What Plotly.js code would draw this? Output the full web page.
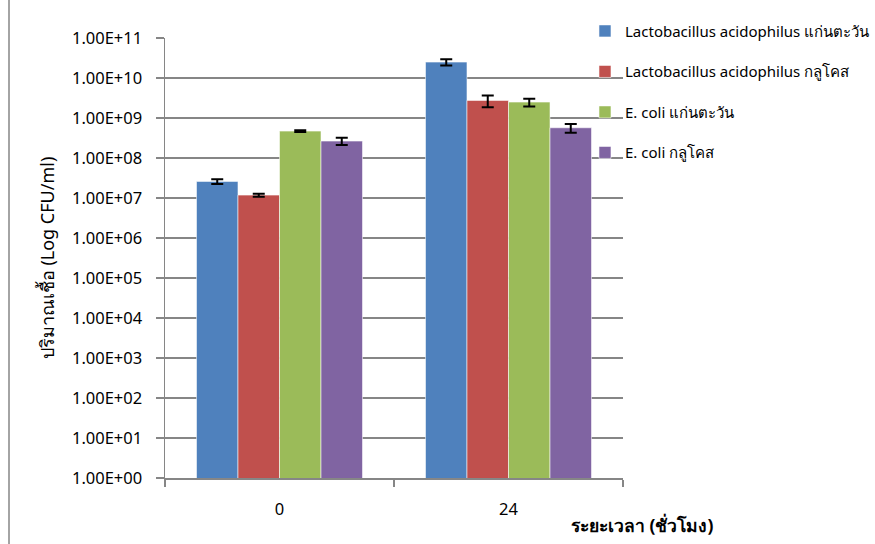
<!DOCTYPE html>
<html>
<head>
<meta charset="utf-8">
<script src="https://cdn.plot.ly/plotly-3.0.1.min.js"></script>
<style>html,body{margin:0;padding:0;background:#fff;}#chart{width:875px;height:544px;}</style>
</head>
<body>
<div id="chart"></div>
<script>
const categories = ["0", "24"];
const seriesNames = [
  "Lactobacillus acidophilus แก่นตะวัน",
  "Lactobacillus acidophilus กลูโคส",
  "E. coli แก่นตะวัน",
  "E. coli กลูโคส"
];
const laJerusalem = [2.6e7, 2.5e10];
const laGlucose = [1.18e7, 2.75e9];
const ecJerusalem = [4.7e8, 2.5e9];
const ecGlucose = [2.65e8, 5.7e8];
const laJerusalemErr = [3.5e6, 4.5e9];
const laGlucoseErr = [1.0e6, 9.0e8];
const ecJerusalemErr = [2.5e7, 5.5e8];
const ecGlucoseErr = [5.5e7, 1.4e8];
const yTickVals = [1e0,1e1,1e2,1e3,1e4,1e5,1e6,1e7,1e8,1e9,1e10,1e11];
const yTickText = ["1.00E+00","1.00E+01","1.00E+02","1.00E+03","1.00E+04","1.00E+05","1.00E+06","1.00E+07","1.00E+08","1.00E+09","1.00E+10","1.00E+11"];
const colors = ["#4F81BD", "#C0504D", "#9BBB59", "#8064A2"];

const FONT = "Noto Sans, Tahoma, DejaVu Sans, sans-serif";
const values = [laJerusalem, laGlucose, ecJerusalem, ecGlucose];
const errs = [laJerusalemErr, laGlucoseErr, ecJerusalemErr, ecGlucoseErr];

const traces = values.map((v, i) => ({
  type: "bar",
  name: seriesNames[i],
  x: categories,
  y: v,
  legendgroup: "g" + i,
  marker: {color: colors[i], line: {color: "rgba(255,255,255,0.55)", width: 1}},
  error_y: {type: "data", array: errs[i], visible: true, color: "#000", thickness: 2, width: 6}
}));

const layout = {
  width: 875, height: 544,
  margin: {l: 165, r: 252, t: 38, b: 66, autoexpand: false},
  paper_bgcolor: "#fff", plot_bgcolor: "#fff",
  barmode: "group", bargap: 0.275, bargroupgap: 0,
  font: {family: FONT, size: 15, color: "#000"},
  showlegend: true,
  legend: {
    x: 0.917, xanchor: "left", y: 1.053, yanchor: "top",
    traceorder: "grouped", tracegroupgap: 18,
    font: {family: FONT, size: 15, color: "#000"},
    bgcolor: "rgba(0,0,0,0)", itemwidth: 30
  },
  xaxis: {
    type: "category",
    showline: true, linecolor: "#868686", linewidth: 1.5,
    ticks: "outside", tickson: "boundaries", ticklen: 7, tickcolor: "#868686", tickwidth: 1.5,
    ticklabelstandoff: 16,
    tickfont: {family: FONT, size: 16.5, color: "#000"},
    showgrid: false, zeroline: false
  },
  yaxis: {
    type: "log", range: [0, 11],
    tickvals: yTickVals, ticktext: yTickText,
    showline: true, linecolor: "#868686", linewidth: 1.5,
    ticks: "outside", ticklen: 8, tickcolor: "#868686", tickwidth: 1.5,
    ticklabelstandoff: 10,
    showgrid: true, gridcolor: "#868686", gridwidth: 1.5,
    tickfont: {family: FONT, size: 16.5, color: "#000"},
    title: {text: "ปริมาณเชื้อ (Log CFU/ml)", font: {family: FONT, size: 18, color: "#000"}, standoff: 12},
    zeroline: false
  },
  annotations: [{
    text: "<b>ระยะเวลา (ชั่วโมง)</b>",
    xref: "paper", yref: "paper", x: 1.0415, y: -0.107,
    xanchor: "center", yanchor: "middle", showarrow: false,
    font: {family: FONT, size: 17.5, color: "#000"}
  }],
  shapes: [{
    type: "line", xref: "paper", yref: "paper",
    x0: -0.3406, x1: -0.3406, y0: -0.2, y1: 1.1,
    line: {color: "#868686", width: 1.5}
  }]
};

Plotly.newPlot("chart", traces, layout, {displayModeBar: false, staticPlot: true});
</script>
</body>
</html>
